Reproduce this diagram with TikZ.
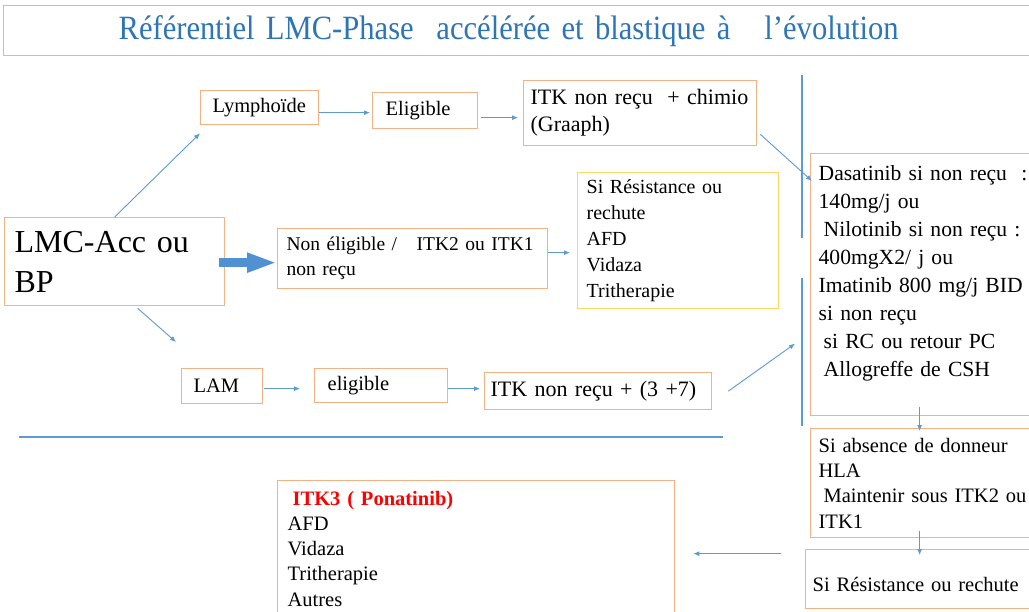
\documentclass[tikz,border=0pt]{standalone}
\usepackage{fontspec}
\setmainfont{Liberation Serif}
\newfontfamily\titlefont[FakeStretch=0.9]{Liberation Serif}
\usetikzlibrary{arrows.meta}
\definecolor{boxline}{RGB}{244,177,131}
\definecolor{boxyellow}{RGB}{255,214,102}
\definecolor{linkblue}{RGB}{91,155,213}
\definecolor{arrowblue}{RGB}{79,145,210}
\definecolor{titleblue}{RGB}{46,117,182}
\hyphenpenalty=10000
\begin{document}
\begin{tikzpicture}[x=1pt,y=-1pt,
    box/.style={draw=boxline, line width=1.3pt, anchor=north west, align=left,
      inner ysep=0pt, font=\fontsize{20.5}{25}\selectfont},
    link/.style={linkblue, line width=0.9pt, -{Latex[length=6pt,width=5pt]}},
    bigarrow/.style={arrowblue, line width=9pt, -{Triangle[length=30pt,width=18pt]}},
    rule/.style={linkblue, line width=1.1pt}]
  \clip (0,0) rectangle (1029,611);
  \fill[white] (0,0) rectangle (1029,611);
  % title
  \node (title) at (3,5) [box, minimum height=50pt, text width=1000pt, inner xsep=115pt,
    text=titleblue, font=\titlefont\fontsize{34}{38}\selectfont]
    {Référentiel LMC-Phase~ accélérée et blastique à~~~l’évolution};
  % left column
  \node (lmc) at (4,217) [box, minimum width=220pt, minimum height=88pt, text width=200pt,
    inner xsep=10pt, font=\fontsize{32}{40}\selectfont] {LMC-Acc ou\\BP};
  \node (lym) at (200,90) [box, minimum width=118pt, minimum height=34pt, text width=94pt,
    inner xsep=12pt] {Lymphoïde};
  \node (elig) at (372,92) [box, minimum width=105pt, minimum height=36pt, text width=79pt,
    inner xsep=13pt] {Eligible};
  \node (itkc) at (523,80) [box, minimum width=233pt, minimum height=65pt, text width=219pt,
    inner xsep=7pt, font=\fontsize{22}{27}\selectfont] {ITK non reçu~ + chimio\\(Graaph)};
  \node (nonel) at (277,228) [box, minimum width=270pt, minimum height=60pt, text width=258pt,
    inner xsep=6pt, font=\fontsize{19.5}{25}\selectfont]
    {\hspace*{3pt}Non éligible /~~~ITK2 ou ITK1\\\hspace*{3pt}non reçu};
  \node (sires) at (577,172) [box, draw=boxyellow, minimum width=201pt, minimum height=136pt,
    text width=183pt, inner xsep=9pt, font=\fontsize{20}{25.8}\selectfont]
    {Si Résistance ou\\rechute\\AFD\\Vidaza\\Tritherapie};
  \node (lam) at (181,368) [box, minimum width=81pt, minimum height=35pt, text width=57pt,
    inner xsep=12pt] {LAM};
  \node (elig2) at (314,368) [box, minimum width=133pt, minimum height=34pt, text width=107pt,
    inner xsep=13pt] {eligible};
  \node (itk37) at (484,372) [box, minimum width=227pt, minimum height=37pt, text width=215pt,
    inner xsep=6pt, font=\fontsize{22}{27}\selectfont] {ITK non reçu + (3 +7)};
  % right column
  \node (dasa) at (810,153) [box, minimum width=235pt, minimum height=262pt, text width=219pt,
    inner xsep=8pt, font=\fontsize{21.6}{28}\selectfont]
    {Dasatinib si non reçu~ :\\140mg/j ou\\\hspace*{5pt}Nilotinib si non reçu :\\400mgX2/ j ou\\
     Imatinib 800 mg/j BID\\si non reçu\\\hspace*{5pt}si RC ou retour PC\\
     \hspace*{5pt}Allogreffe de CSH\\\mbox{}};
  \node (siabs) at (810,428) [box, minimum width=235pt, minimum height=109pt, text width=219pt,
    inner xsep=8pt, font=\fontsize{20.5}{25.3}\selectfont]
    {Si absence de donneur\\HLA\\\hspace*{5pt}Maintenir sous ITK2 ou\\ITK1};
  \node (sirr) at (805,549) [box, minimum width=245pt, minimum height=59pt, text width=231pt,
    inner xsep=7pt] {\mbox{}\\Si Résistance ou rechute};
  \node (itk3) at (277,480) [box, minimum width=397pt, minimum height=136pt, text width=377pt,
    inner xsep=10pt, font=\fontsize{20.5}{25.3}\selectfont]
    {\hspace*{5pt}\textcolor{red}{\textbf{ITK3 ( Ponatinib)}}\\AFD\\Vidaza\\Tritherapie\\Autres};
  % separators
  \draw[rule] (802,75) -- (802,238);
  \draw[rule] (802,278) -- (802,426);
  \draw[rule] (19,437) -- (723,437);
  % connectors
  \draw[link] (lmc.north) -- ([yshift=-8pt]lym.south west);
  \draw[link] ([yshift=-5pt]lym.east) -- ([xshift=-2pt,yshift=-2pt]elig.west);
  \draw[link] ([xshift=3pt,yshift=-7pt]elig.east) -- ([xshift=-5pt,yshift=-4.5pt]itkc.west);
  \draw[link] ([xshift=3pt,yshift=12pt]itkc.south east) -- ([xshift=2pt,yshift=-28pt]dasa.north west);
  \draw[bigarrow] ([xshift=-6pt,yshift=-1pt]lmc.east) -- ([yshift=-4pt]nonel.west);
  \draw[link] ([yshift=6pt]nonel.east) -- ([xshift=-7pt,yshift=-12pt]sires.west);
  \draw[link] ([xshift=23pt,yshift=-2pt]lmc.south) -- ([xshift=-5pt,yshift=26pt]lam.north west);
  \draw[link] ([xshift=1pt,yshift=-2.5pt]lam.east) -- ([xshift=-14pt,yshift=-3pt]elig2.west);
  \draw[link] ([yshift=-3pt]elig2.east) -- ([xshift=-4pt,yshift=2.5pt]itk37.west);
  \draw[link] ([xshift=16pt]itk37.east) -- ([xshift=-15pt,yshift=-59pt]dasa.west);
  \draw[link] ([xshift=-8.5pt,yshift=9pt]dasa.south) -- ([xshift=-8.5pt,yshift=-3pt]siabs.north);
  \draw[link] ([xshift=-8.5pt,yshift=7pt]siabs.south) -- ([xshift=-8.5pt,yshift=-6pt]sirr.north);
  \draw[link] ([xshift=-24pt,yshift=25.5pt]sirr.west) -- ([xshift=18pt,yshift=-5pt]itk3.east);
\end{tikzpicture}
\end{document}
